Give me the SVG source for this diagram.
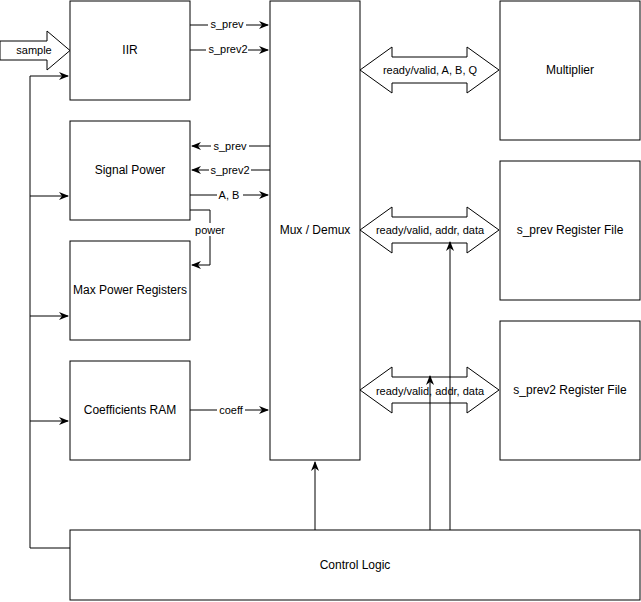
<svg xmlns="http://www.w3.org/2000/svg" width="641" height="602" viewBox="0 0 641 602">
<style>
rect{fill:#fff;stroke:#000;stroke-width:1}
.t{font-family:"Liberation Sans",Arial,sans-serif;font-size:12px;text-anchor:middle;dominant-baseline:central}
.s{font-size:11px}
.c{fill:none;stroke:#000;stroke-width:1}
.lb{fill:#fff}
.big{fill:#fff;stroke:#000}
</style>
<defs><marker id="a" markerWidth="10" markerHeight="8" refX="9" refY="4" orient="auto" markerUnits="userSpaceOnUse"><path d="M0,0 L10,4 L0,8 L3,4Z"/></marker></defs>
<rect x="0" y="0" width="641" height="602" style="stroke:none"/>
<g id="connectors">
<path class="big" d="M360,70 L392,47 V57 H467 V47 L499,70 L467,93 V83 H392 V93Z"/>
<path class="big" d="M360,230 L392,207 V217 H467 V207 L499,230 L467,253 V243 H392 V253Z"/>
<path class="big" d="M360,390 L392,367 V377 H467 V367 L499,390 L467,413 V403 H392 V413Z"/>
<path class="c" d="M70,548 H30 V76 H68" marker-end="url(#a)"/>
<path class="c" d="M30,196 H68" marker-end="url(#a)"/>
<path class="c" d="M30,316 H68" marker-end="url(#a)"/>
<path class="c" d="M30,421 H68" marker-end="url(#a)"/>
<path class="c" d="M190,25 H268" marker-end="url(#a)"/>
<path class="c" d="M190,50 H268" marker-end="url(#a)"/>
<path class="c" d="M270,146 H192" marker-end="url(#a)"/>
<path class="c" d="M270,170 H192" marker-end="url(#a)"/>
<path class="c" d="M190,195 H268" marker-end="url(#a)"/>
<path class="c" d="M190,210 H210 V265 H192" marker-end="url(#a)"/>
<path class="c" d="M190,410 H268" marker-end="url(#a)"/>
<path class="c" d="M315,530 V462" marker-end="url(#a)"/>
<path class="c" d="M430,530 V376" marker-end="url(#a)"/>
<path class="c" d="M450,530 V242" marker-end="url(#a)"/>
<path class="big" d="M0,41 H47 V31 L70,50.5 L47,70 V60 H0Z"/>
<text class="t s" x="34" y="50">sample</text>
<g class="t s">
<rect class="lb" x="208" y="18" width="38" height="13" style="stroke:none"/><text x="227" y="24">s_prev</text>
<rect class="lb" x="206" y="43" width="42" height="13" style="stroke:none"/><text x="228" y="49">s_prev2</text>
<rect class="lb" x="211" y="139" width="38" height="13" style="stroke:none"/><text x="230" y="146">s_prev</text>
<rect class="lb" x="209" y="163" width="42" height="13" style="stroke:none"/><text x="230" y="170">s_prev2</text>
<rect class="lb" x="217" y="188" width="26" height="13" style="stroke:none"/><text x="229" y="195">A, B</text>
<rect class="lb" x="192" y="223" width="36" height="13" style="stroke:none"/><text x="210" y="230">power</text>
<rect class="lb" x="217" y="403" width="28" height="13" style="stroke:none"/><text x="231" y="410">coeff</text>
</g>
<text class="t s" x="430" y="70">ready/valid, A, B, Q</text>
<text class="t s" x="430" y="230">ready/valid, addr, data</text>
<text class="t s" x="430" y="391">ready/valid, addr, data</text>
</g>
<g id="iir"><rect x="70" y="1" width="120" height="99"/><text class="t" x="130" y="50">IIR</text></g>
<g id="sigpower"><rect x="70" y="121" width="120" height="99"/><text class="t" x="130" y="170">Signal Power</text></g>
<g id="maxpower"><rect x="70" y="241" width="120" height="99"/><text class="t" x="130" y="290">Max Power Registers</text></g>
<g id="coeff"><rect x="70" y="361" width="120" height="99"/><text class="t" x="130" y="410">Coefficients RAM</text></g>
<g id="mux"><rect x="270" y="1" width="90" height="459"/><text class="t" x="315" y="230">Mux / Demux</text></g>
<g id="mult"><rect x="500" y="1" width="140" height="139"/><text class="t" x="570" y="70">Multiplier</text></g>
<g id="sprev"><rect x="500" y="161" width="140" height="139"/><text class="t" x="570" y="230">s_prev Register File</text></g>
<g id="sprev2"><rect x="500" y="321" width="140" height="139"/><text class="t" x="570" y="390">s_prev2 Register File</text></g>
<g id="control"><rect x="70" y="530" width="570" height="70"/><text class="t" x="355" y="565">Control Logic</text></g>
</svg>
